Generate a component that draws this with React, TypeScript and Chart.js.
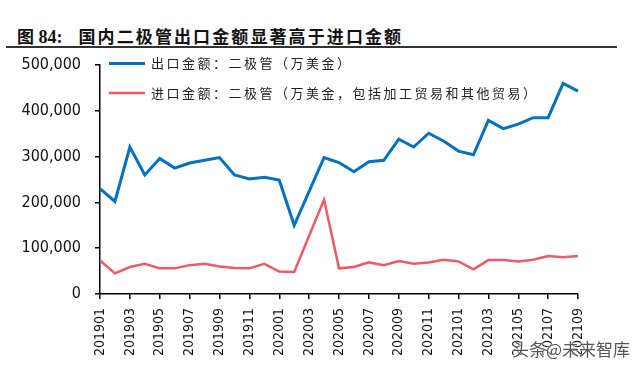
import React, { useEffect, useRef } from "react";
import { Chart, registerables } from "chart.js";

Chart.register(...registerables);

const months = [
  "201901", "201902", "201903", "201904", "201905", "201906", "201907", "201908", "201909", "201910", "201911", "201912",
  "202001", "202002", "202003", "202004", "202005", "202006", "202007", "202008", "202009", "202010", "202011", "202012",
  "202101", "202102", "202103", "202104", "202105", "202106", "202107", "202108", "202109",
];

const exportValues = [
  230000, 202000, 321000, 260000, 296000, 275000, 286000, 292000, 298000, 260000, 251000, 255000,
  249000, 150000, 224000, 298000, 287000, 267000, 289000, 292000, 338000, 321000, 351000, 334000,
  312000, 304000, 379000, 361000, 371000, 385000, 385000, 460000, 443000,
];

const importValues = [
  73000, 45000, 59000, 66000, 56000, 56000, 63000, 66000, 60000, 57000, 56000, 66000,
  49000, 48000, 127000, 206000, 56000, 59000, 69000, 63000, 72000, 66000, 69000, 75000,
  71000, 54000, 74000, 74000, 71000, 75000, 83000, 80000, 83000,
];

const seriesNames = [
  "出口金额：二极管（万美金）",
  "进口金额：二极管（万美金，包括加工贸易和其他贸易）",
];

const yTicks = [0, 100000, 200000, 300000, 400000, 500000];

const BLUE = "#0070C0";
const RED = "#EE5A64";

const legendPlugin = {
  id: "insideLegend",
  afterDraw(chart: any) {
    const ctx = chart.ctx;
    const items = chart.data.datasets;
    ctx.save();
    items.forEach((ds: any, i: number) => {
      const y = 63.5 + i * 29.5;
      ctx.strokeStyle = ds.borderColor;
      ctx.lineWidth = ds.borderWidth;
      ctx.beginPath();
      ctx.moveTo(109, y);
      ctx.lineTo(145, y);
      ctx.stroke();
      ctx.fillStyle = "#222";
      ctx.font = '13px "Noto Sans CJK SC"';
      ctx.textBaseline = "middle";
      ctx.textAlign = "left";
      (ctx as any).letterSpacing = "2.5px";
      ctx.fillText(ds.label, 151, y);
    });
    ctx.restore();
  },
};

export default function App() {
  const ref = useRef<HTMLCanvasElement | null>(null);

  useEffect(() => {
    if (!ref.current) return;
    const chart = new Chart(ref.current, {
      type: "line",
      data: {
        labels: months,
        datasets: [
          {
            label: seriesNames[0],
            data: exportValues,
            borderColor: BLUE,
            backgroundColor: BLUE,
            borderWidth: 3,
            pointRadius: 0,
            tension: 0,
          },
          {
            label: seriesNames[1],
            data: importValues,
            borderColor: RED,
            backgroundColor: RED,
            borderWidth: 2.5,
            pointRadius: 0,
            tension: 0,
          },
        ],
      },
      options: {
        animation: false,
        responsive: false,
        maintainAspectRatio: false,
        layout: { padding: { left: 0, right: 62, top: 65, bottom: 0 } },
        plugins: {
          legend: { display: false },
          tooltip: { enabled: false },
        },
        scales: {
          x: {
            offset: false,
            grid: { drawOnChartArea: false, drawTicks: true, tickLength: 5, color: "#000", lineWidth: 1.5 },
            border: { color: "#000", width: 1.5 },
            ticks: {
              autoSkip: false,
              minRotation: 90,
              maxRotation: 90,
              padding: 9,
              color: "#111",
              font: { family: '"DejaVu Sans Condensed", "DejaVu Sans"', size: 14 },
              callback: (_v: any, i: number) => (i % 2 === 0 ? months[i] : null),
            },
            afterFit: (s: any) => {
              s.height = 75;
            },
          },
          y: {
            min: 0,
            max: 500000,
            afterBuildTicks: (s: any) => {
              s.ticks = yTicks.map((v) => ({ value: v }));
            },
            grid: { drawOnChartArea: false, drawTicks: true, tickLength: 5, color: "#000", lineWidth: 1.5 },
            border: { color: "#000", width: 1.5 },
            ticks: {
              padding: 14,
              color: "#111",
              font: { family: '"DejaVu Sans Condensed", "DejaVu Sans"', size: 16 },
              callback: (v: any) => Number(v).toLocaleString("en-US"),
            },
            afterFit: (s: any) => {
              s.width = 100;
            },
          },
        },
      },
      plugins: [legendPlugin],
    });
    return () => chart.destroy();
  }, []);

  return (
    <div style={{ position: "absolute", left: 0, top: 0, width: 640, height: 369, background: "#fff", overflow: "hidden" }}>
      <div
        style={{
          position: "absolute",
          left: 17,
          top: 26,
          fontWeight: 700,
          fontSize: 17,
          lineHeight: "20px",
          color: "#111",
          fontFamily: '"Liberation Serif", "Noto Sans CJK SC", serif',
          whiteSpace: "nowrap",
        }}
      >
        <span style={{ fontFamily: '"Noto Sans CJK SC"' }}>图</span>
        <span style={{ fontSize: 18 }}> 84:</span>
        <span style={{ display: "inline-block", width: 16 }} />
        <span style={{ fontFamily: '"Noto Sans CJK SC"', letterSpacing: "2.1px" }}>国内二极管出口金额显著高于进口金额</span>
      </div>
      <div style={{ position: "absolute", left: 6, top: 46, width: 611, height: 2, background: "#333" }} />
      <canvas ref={ref} width={640} height={369} style={{ position: "absolute", left: 0, top: 0 }} />
      <div
        style={{
          position: "absolute",
          left: 512,
          top: 339,
          fontSize: 17,
          lineHeight: "20px",
          color: "#555",
          fontFamily: '"Noto Sans CJK SC", sans-serif',
          textShadow: "0 0 2px #fff, 0 0 2px #fff",
          whiteSpace: "nowrap",
        }}
      >
        头条@未来智库
      </div>
    </div>
  );
}
